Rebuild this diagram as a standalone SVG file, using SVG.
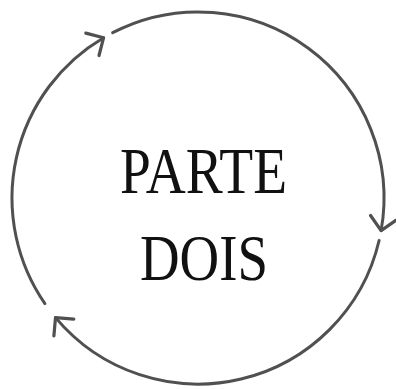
<svg xmlns="http://www.w3.org/2000/svg" width="396" height="389" viewBox="0 0 396 389">
<style>
.arc{fill:none;stroke:#505050;stroke-width:3;stroke-linecap:round;marker-end:url(#chev)}
.lbl{font-family:"Liberation Serif","Times New Roman",serif;font-size:65px;fill:#111}
</style>
<defs>
<marker id="chev" markerUnits="userSpaceOnUse" viewBox="-16 -16 20 32" markerWidth="20" markerHeight="32" refX="0" refY="0" orient="auto" overflow="visible">
<path d="M-13,-13 L0,0 L-13,13" fill="none" stroke="#505050" stroke-width="3.2" stroke-linecap="round" stroke-linejoin="round"/>
</marker>
</defs>
<rect width="396" height="389" fill="#fff"/>
<g id="connectors">
<path class="arc" d="M44.9,303.6 A186,186 0 0 1 103.6,37.7"/>
<path class="arc" d="M112.7,32.7 A186,186 0 0 1 381.1,230.6"/>
<path class="arc" d="M379.1,240.5 A186,186 0 0 1 55.5,317.6"/>
</g>
<g id="label">
<text class="lbl" x="120" y="193" textLength="167" lengthAdjust="spacingAndGlyphs">PARTE</text>
<text class="lbl" x="140" y="280" textLength="128" lengthAdjust="spacingAndGlyphs">DOIS</text>
</g>
</svg>
